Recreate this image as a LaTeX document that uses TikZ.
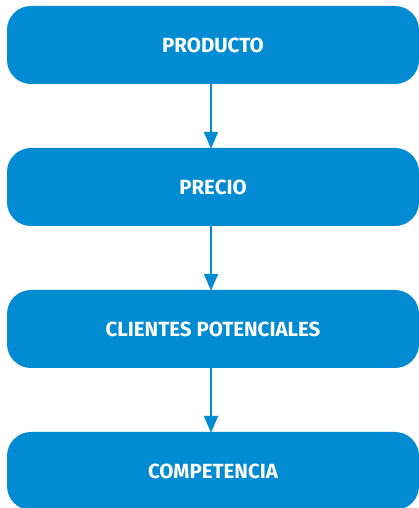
\documentclass[tikz,border=0pt]{standalone}
\usepackage{fontspec}
\setmainfont{Fira Sans}
\usetikzlibrary{arrows.meta}
\definecolor{boxblue}{HTML}{008BD2}
\tikzset{
  stagebox/.style={fill=boxblue, draw=none, rounded corners=24pt, minimum width=412pt, minimum height=78pt, inner sep=0pt, text=white, font=\fontsize{20.5}{24}\selectfont\bfseries},
  flowarrow/.style={draw=boxblue, line width=2pt, -{Triangle[length=17pt,width=14pt]}, shorten >=-1pt}
}
\begin{document}
\begin{tikzpicture}[x=1pt,y=1pt]
\useasboundingbox (0,0) rectangle (418,508);
\node[stagebox] (p) at (213,463) {PRODUCTO};
\node[stagebox] (q) at (213,321) {PRECIO};
\node[stagebox] (c) at (213,179) {CLIENTES POTENCIALES};
\node[stagebox] (k) at (213,37) {COMPETENCIA};
\draw[flowarrow] (p.south -| 211,0) -- (q.north -| 211,0);
\draw[flowarrow] (q.south -| 211,0) -- (c.north -| 211,0);
\draw[flowarrow] (c.south -| 211,0) -- (k.north -| 211,0);
\end{tikzpicture}
\end{document}
